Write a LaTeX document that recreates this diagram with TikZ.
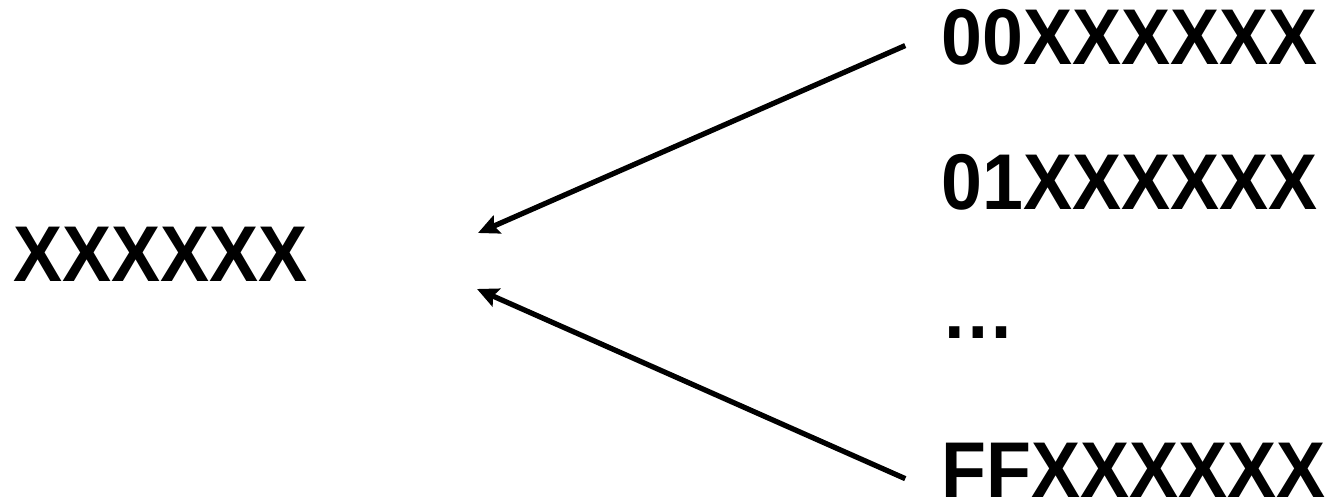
\documentclass[tikz,border=0pt]{standalone}
\usepackage{fontspec}
\setmainfont{Liberation Sans}[FakeStretch=0.93]
\usetikzlibrary{arrows.meta}
\begin{document}
\begin{tikzpicture}[x=0.02cm,y=-0.02cm,>={Stealth[length=12pt,width=11pt,inset=2pt]},line width=3pt]
  \tikzstyle{word}=[inner sep=0pt, anchor=base west, font=\fontsize{45}{50}\selectfont\bfseries]
  \useasboundingbox (0,0) rectangle (1333,502);

  \node[word] (short) at (11,282) {XXXXXX};
  \node[word] (top) at (939,65) {00XXXXXX};
  \node[word] (next) at (939,210) {01XXXXXX};
  \node[word] (dots) at (939,339) {\dots};
  \node[word] (last) at (939,498) {FFXXXXXX};

  \coordinate (upper tip) at (478,233);
  \coordinate (lower tip) at (477,289);

  \draw[->, shorten <=21pt] ([yshift=4pt]top.west) -- (upper tip);
  \draw[->, shorten <=21pt] ([yshift=4pt]last.south west) -- (lower tip);
\end{tikzpicture}
\end{document}
